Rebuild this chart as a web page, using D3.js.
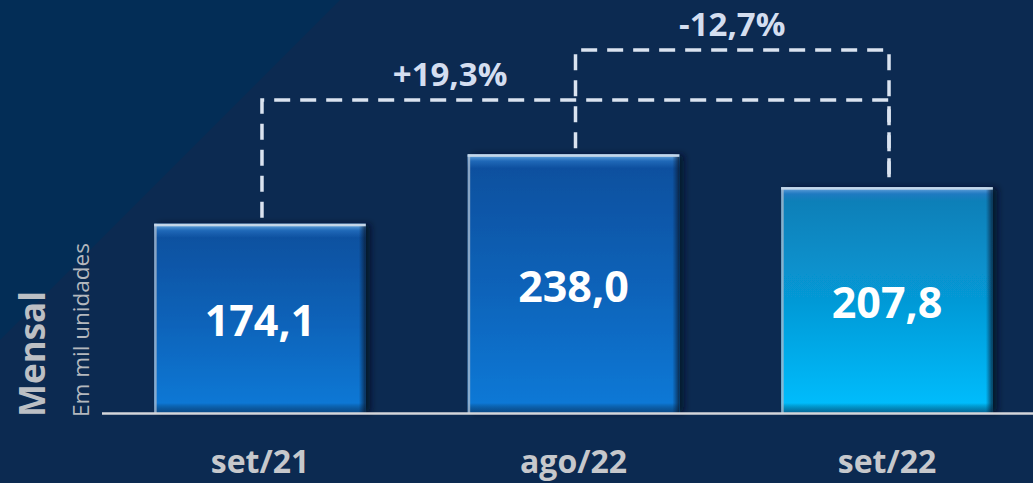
<!DOCTYPE html>
<html>
<head>
<meta charset="utf-8">
<script src="https://cdn.jsdelivr.net/npm/d3@7"></script>
<style>
  html, body { margin: 0; padding: 0; background: #0c2a51; }
  svg { display: block; }
</style>
</head>
<body>
<div id="chart"></div>
<script>
// data
const categories = ["set/21", "ago/22", "set/22"];
const values = [174.1, 238.0, 207.8];
const valueLabels = ["174,1", "238,0", "207,8"];
// comparisons: from -> to, label
const compFrom = ["set/21", "ago/22"];
const compTo = ["set/22", "set/22"];
const compLabels = ["+19,3%", "-12,7%"];

const W = 1033, H = 483;
const svg = d3.select("#chart").append("svg").attr("width", W).attr("height", H);
const defs = svg.append("defs");

// background with diagonal lighter triangle top-left
svg.append("rect").attr("width", W).attr("height", H).attr("fill", "#0c2a51");
svg.append("path").attr("d", "M0,0 L340,0 L0,340 Z").attr("fill", "#032d56");

const x = d3.scaleBand().domain(categories).range([104, 1043]).paddingInner(0.325).paddingOuter(0.16);
const y = d3.scaleLinear().domain([0, 380]).range([413, 0]);

function grad(id, stops) {
  const g = defs.append("linearGradient").attr("id", id).attr("x1", 0).attr("y1", 0).attr("x2", 0).attr("y2", 1);
  stops.forEach(s => g.append("stop").attr("offset", s[0]).attr("stop-color", s[1]).attr("stop-opacity", s[2] == null ? 1 : s[2]));
}
grad("gBlue", [[0, "#0a4e9c"], [0.5, "#0a62b8"], [1, "#0b7ad8"]]);
grad("gCyan", [[0, "#0a7cb4"], [0.5, "#0699d6"], [1, "#00bfff"]]);
grad("gTop", [[0, "#b9d4ee"], [0.15, "#5f9fd8"], [0.5, "#2a78c8", 0.6], [1, "#2a78c8", 0]]);
grad("gBottom", [[0, "#000", 0], [1, "#0a2a55", 0.6]]);
const gr = defs.append("linearGradient").attr("id", "gRight").attr("x1", 0).attr("x2", 1).attr("y1", 0).attr("y2", 0);
gr.append("stop").attr("offset", 0).attr("stop-color", "#0a2040").attr("stop-opacity", 0);
gr.append("stop").attr("offset", 1).attr("stop-color", "#0a1a30").attr("stop-opacity", 0.8);

const sh = defs.append("filter").attr("id", "shadow").attr("x", "-10%").attr("y", "-10%").attr("width", "130%").attr("height", "130%");
sh.append("feGaussianBlur").attr("in", "SourceAlpha").attr("stdDeviation", 3);
sh.append("feOffset").attr("dx", 5).attr("dy", 0).attr("result", "b");
sh.append("feFlood").attr("flood-color", "#050f20").attr("flood-opacity", 0.7);
sh.append("feComposite").attr("in2", "b").attr("operator", "in");
const fm = sh.append("feMerge");
fm.append("feMergeNode");
fm.append("feMergeNode").attr("in", "SourceGraphic");

const bars = svg.append("g").selectAll("g").data(categories).join("g");

bars.append("rect")
  .attr("x", d => x(d)).attr("y", (d, i) => y(values[i]))
  .attr("width", x.bandwidth()).attr("height", (d, i) => y(0) - y(values[i]))
  .attr("fill", (d, i) => i === 2 ? "url(#gCyan)" : "url(#gBlue)")
  .attr("filter", "url(#shadow)");
// top bevel
bars.append("rect")
  .attr("x", d => x(d)).attr("y", (d, i) => y(values[i]))
  .attr("width", x.bandwidth()).attr("height", 14)
  .attr("fill", "url(#gTop)");
// bottom darkening
bars.append("rect")
  .attr("x", d => x(d)).attr("y", y(0) - 10)
  .attr("width", x.bandwidth()).attr("height", 10)
  .attr("fill", "url(#gBottom)");
// right dark edge
bars.append("rect")
  .attr("x", d => x(d) + x.bandwidth() - 7).attr("y", (d, i) => y(values[i]))
  .attr("width", 7).attr("height", (d, i) => y(0) - y(values[i]))
  .attr("fill", "url(#gRight)");
// left light edge
bars.append("rect")
  .attr("x", d => x(d)).attr("y", (d, i) => y(values[i]))
  .attr("width", 2.5).attr("height", (d, i) => y(0) - y(values[i]))
  .attr("fill", "#a9b9cc").attr("opacity", 0.8);
// top highlight line
bars.append("rect")
  .attr("x", d => x(d)).attr("y", (d, i) => y(values[i]))
  .attr("width", x.bandwidth()).attr("height", 2.5)
  .attr("fill", "#c4d6e8");

bars.append("text")
  .attr("x", d => x(d) + x.bandwidth() / 2)
  .attr("y", (d, i) => (y(values[i]) + y(0)) / 2 + 18)
  .attr("text-anchor", "middle")
  .attr("font-family", "'Open Sans', sans-serif").attr("font-weight", 700)
  .attr("font-size", 43).attr("fill", "#ffffff")
  .text((d, i) => valueLabels[i]);

// baseline
svg.append("line").attr("x1", 102).attr("x2", W).attr("y1", y(0) + 0.5).attr("y2", y(0) + 0.5)
  .attr("stroke", "#d4d6da").attr("stroke-width", 2.5);

// category labels
svg.append("g").selectAll("text").data(categories).join("text")
  .attr("x", d => x(d) + x.bandwidth() / 2).attr("y", 473)
  .attr("text-anchor", "middle")
  .attr("font-family", "'Open Sans', sans-serif").attr("font-weight", 700)
  .attr("font-size", 32).attr("fill", "#c6c8cc")
  .text(d => d);

// axis titles
svg.append("text").attr("transform", "translate(45,417) rotate(-90)")
  .attr("font-family", "'Open Sans', sans-serif").attr("font-weight", 700)
  .attr("font-size", 35).attr("fill", "#bcbfc4").text("Mensal");
svg.append("text").attr("transform", "translate(89,417) rotate(-90)")
  .attr("font-family", "'Open Sans', sans-serif")
  .attr("font-size", 22.5).attr("fill", "#b4b8be").text("Em mil unidades");

// comparison brackets
const cx = c => x(c) + x.bandwidth() / 2;
const valOf = c => values[categories.indexOf(c)];
const levels = [100, 50];
const labelPos = [0.3, 0.5];
const dash = svg.append("g").attr("fill", "none").attr("stroke", "#dae3f0")
  .attr("stroke-width", 3.5).attr("stroke-dasharray", "16,10");
compFrom.forEach((f, i) => {
  const t = compTo[i];
  const x1 = cx(f) + 2, x2 = cx(t) + 2, ly = levels[i];
  dash.append("path").attr("d", `M${x1},${y(valOf(f)) - 6} V${ly} H${x2} V${y(valOf(t)) - 3}`);
  svg.append("text")
    .attr("x", x1 + (x2 - x1) * labelPos[i]).attr("y", ly - 14)
    .attr("text-anchor", "middle")
    .attr("font-family", "'Open Sans', sans-serif").attr("font-weight", 700)
    .attr("font-size", 33).attr("fill", "#d4def0")
    .text(compLabels[i]);
});
</script>
</body>
</html>
